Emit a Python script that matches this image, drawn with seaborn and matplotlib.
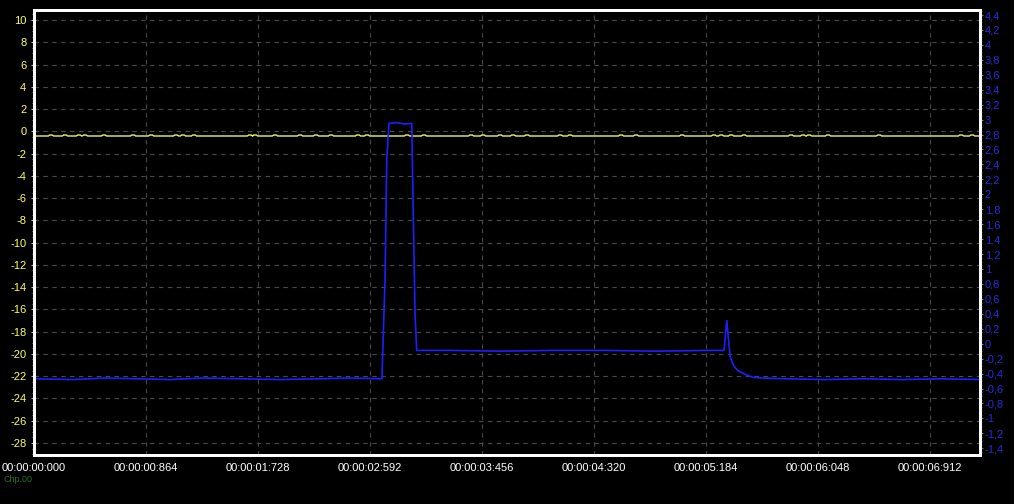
import numpy as np
import pandas as pd
import seaborn as sns
import matplotlib
matplotlib.use('Agg')
import matplotlib.pyplot as plt
from matplotlib.ticker import MultipleLocator, FixedLocator, FuncFormatter

# --- DATA ---
# time axis, seconds
tick_times = [0.0, 0.864, 1.728, 2.592, 3.456, 4.320, 5.184, 6.048, 6.912]
tick_labels = ['00:00:00:000', '00:00:00:864', '00:00:01:728', '00:00:02:592',
               '00:00:03:456', '00:00:04:320', '00:00:05:184', '00:00:06:048',
               '00:00:06:912']

# blue channel (right axis)
blue_t = [0.00, 0.30, 0.55, 0.80, 1.05, 1.30, 1.60, 1.90, 2.20, 2.45, 2.684,
          2.708, 2.721, 2.738, 2.80, 2.86, 2.914, 2.924, 2.939, 2.952, 3.20,
          3.60, 4.00, 4.40, 4.80, 5.20, 5.323, 5.344, 5.369, 5.39, 5.408,
          5.43, 5.46, 5.498, 5.546, 5.62, 5.80, 6.10, 6.40, 6.70, 7.00, 7.30]
blue_v = [-0.47, -0.48, -0.46, -0.47, -0.48, -0.46, -0.47, -0.48, -0.47, -0.46,
          -0.47, 0.89, 2.46, 2.95, 2.96, 2.94, 2.95, 1.88, 0.41, -0.09, -0.09,
          -0.10, -0.09, -0.09, -0.10, -0.09, -0.09, 0.31, -0.17, -0.27, -0.32,
          -0.36, -0.39, -0.42, -0.45, -0.46, -0.47, -0.48, -0.47, -0.48, -0.47,
          -0.48]

# yellow channel (left axis): flat level with small one-sample bumps
yellow_base = -0.42
yellow_bump = -0.33
bump_times = [0.131, 0.239, 0.347, 0.393, 0.540, 0.764, 0.903, 1.095, 1.149,
              1.234, 1.666, 1.705, 1.859, 2.052, 2.175, 2.291, 2.499, 2.569,
              2.877, 3.008, 3.371, 3.464, 3.595, 3.695, 3.803, 4.058, 4.135,
              4.528, 4.644, 4.999, 5.245, 5.300, 5.377, 5.477, 5.839, 5.932,
              5.978, 6.125, 6.518, 7.151, 7.236]

# build yellow polyline from the bump list
yt, yv = [0.0], [yellow_base]
for b in bump_times:
    yt += [b - 0.02, b - 0.01, b + 0.01, b + 0.02]
    yv += [yellow_base, yellow_bump, yellow_bump, yellow_base]
yt.append(7.30)
yv.append(yellow_base)
yellow_df = pd.DataFrame({'t': yt, 'v': yv})
blue_df = pd.DataFrame({'t': blue_t, 'v': blue_v})

# --- STYLE ---
sns.set_style('dark', rc={'axes.facecolor': 'black', 'figure.facecolor': 'black',
                          'axes.edgecolor': 'white', 'axes.grid': False})
plt.rcParams['font.family'] = ['Liberation Sans', 'DejaVu Sans']
plt.rcParams['axes.unicode_minus'] = False

fig = plt.figure(figsize=(10.14, 5.04), dpi=100)
ax = fig.add_axes([34 / 1014, 49 / 504, 946 / 1014, 445 / 504])
ax2 = ax.twinx()

sns.lineplot(data=yellow_df, x='t', y='v', color='#f0f070', lw=1.0,
             estimator=None, sort=False, ax=ax)
sns.lineplot(data=blue_df, x='t', y='v', color='#1e1eff', lw=1.2,
             estimator=None, sort=False, ax=ax2)

ax.set_xlim(0, 7.297)
ax.set_ylim(-29.08, 10.9)
ax2.set_ylim(-1.49, 4.467)
ax.set_xlabel('')
ax.set_ylabel('')
ax2.set_ylabel('')

# x axis
ax.xaxis.set_major_locator(FixedLocator(tick_times))
ax.set_xticklabels(tick_labels)
ax.xaxis.set_minor_locator(MultipleLocator(0.216))

# left axis
ax.yaxis.set_major_locator(MultipleLocator(2))
ax.yaxis.set_minor_locator(MultipleLocator(0.5))

# right axis, comma decimals
ax2.yaxis.set_major_locator(MultipleLocator(0.2))
ax2.yaxis.set_minor_locator(MultipleLocator(0.05))

def comma_fmt(v, pos):
    r = round(v, 1)
    if r == 0:
        r = 0.0
    return f"{r:g}".replace('.', ',')

ax2.yaxis.set_major_formatter(FuncFormatter(comma_fmt))

ax.grid(True, which='major', color='#4a4a4a', linestyle=(0, (4, 4)), lw=0.8)
ax2.grid(False)

ax.tick_params(axis='x', which='major', colors='#808080', labelcolor='white',
               labelsize=8, length=2.5, pad=3, direction='out')
ax.tick_params(axis='x', which='minor', colors='#606060', length=1.5)
ax.tick_params(axis='y', which='major', colors='#c0c0c0', labelcolor='#ffff60',
               labelsize=8, length=2.5, pad=3, direction='out')
ax.tick_params(axis='y', which='minor', colors='#a0a0a0', length=1.5)
ax2.tick_params(axis='y', which='major', colors='#808080', labelcolor='#2a2ad8',
                labelsize=8, length=2, pad=1.5, direction='out')
ax2.tick_params(axis='y', which='minor', colors='#606060', length=1.2)

for a in (ax, ax2):
    for s in a.spines.values():
        s.set_color('white')
        s.set_linewidth(2)

# small cursor label under the first timestamp
fig.text(3 / 1014, 1 - 480 / 504, 'Chp.00', color='#2e8b2e', fontsize=6.5,
         alpha=0.8, va='center', ha='left')

fig.savefig('out.png', dpi=100, facecolor='black')
